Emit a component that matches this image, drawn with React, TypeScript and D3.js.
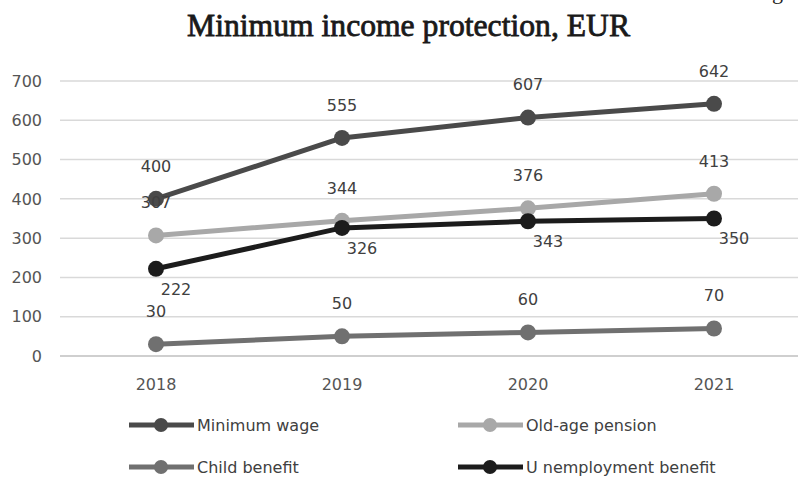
import React from "react";
import * as d3 from "d3";

const years = ["2018", "2019", "2020", "2021"];
const minimumWage = [400, 555, 607, 642];
const oldAgePension = [307, 344, 376, 413];
const childBenefit = [30, 50, 60, 70];
const unemploymentBenefit = [222, 326, 343, 350];
const yTicks = [0, 100, 200, 300, 400, 500, 600, 700];
const title = "Minimum income protection, EUR";

const series = [
  { name: "Minimum wage", values: minimumWage, color: "#4a4a4a", label: "above" },
  { name: "Old-age pension", values: oldAgePension, color: "#a8a8a8", label: "above" },
  { name: "Child benefit", values: childBenefit, color: "#707070", label: "above" },
  { name: "U nemployment benefit", values: unemploymentBenefit, color: "#1c1c1c", label: "below" },
];

export default function App() {
  const W = 798, H = 479;
  const x = d3.scaleBand<string>().domain(years).range([63, 807]);
  const y = d3.scaleLinear().domain([0, 700]).range([356, 81]);
  const line = d3.line<number>()
    .x((_, i) => (x(years[i]) as number) + x.bandwidth() / 2)
    .y((v) => y(v));
  const font = "'DejaVu Sans', sans-serif";
  const legendPos = [
    { lx: 129, ly: 425 },
    { lx: 458, ly: 425 },
    { lx: 129, ly: 467 },
    { lx: 458, ly: 467 },
  ];
  return (
    <svg width={W} height={H} style={{ position: "absolute", left: 0, top: 0, background: "#fff" }}>
      <rect width={W} height={H} fill="#fff" />
      <text x={772} y={-1} fontFamily="'Liberation Serif', serif" fontSize={22} fill="#222">g</text>
      <text x={187} y={36} textLength={443} lengthAdjust="spacingAndGlyphs" fontFamily="'Liberation Serif', serif" fontSize={32} fill="#1a1a1a" stroke="#1a1a1a" strokeWidth={0.8}>{title}</text>
      {yTicks.map((t) => (
        <g key={t}>
          <line x1={60} x2={798} y1={y(t)} y2={y(t)} stroke={t === 0 ? "#cfcfcf" : "#d9d9d9"} strokeWidth={t === 0 ? 2 : 1.5} />
          <text x={42} y={y(t)} dy="0.36em" textAnchor="end" fontFamily={font} fontSize={16} fill="#555">{t}</text>
        </g>
      ))}
      {years.map((yr) => (
        <text key={yr} x={(x(yr) as number) + x.bandwidth() / 2} y={384} dy="0.36em" textAnchor="middle" fontFamily={font} fontSize={16} fill="#555">{yr}</text>
      ))}
      {series.map((s) => (
        <g key={s.name}>
          <path d={line(s.values) || ""} fill="none" stroke={s.color} strokeWidth={5} strokeLinejoin="round" />
          {s.values.map((v, i) => (
            <circle key={i} cx={(x(years[i]) as number) + x.bandwidth() / 2} cy={y(v)} r={8} fill={s.color} />
          ))}
        </g>
      ))}
      {series.map((s) => (
        <g key={s.name + "-labels"}>
          {s.values.map((v, i) => {
            const cx = (x(years[i]) as number) + x.bandwidth() / 2;
            const isAbove = s.label === "above";
            return (
              <text key={i} x={isAbove ? cx : cx + 20} y={isAbove ? y(v) - 33 : y(v) + 20} dy="0.36em" textAnchor="middle" fontFamily={font} fontSize={16} fill="#404040">{v}</text>
            );
          })}
        </g>
      ))}
      {series.map((s, i) => {
        const { lx, ly } = legendPos[i];
        return (
          <g key={s.name + "-legend"}>
            <line x1={lx} x2={lx + 65} y1={ly} y2={ly} stroke={s.color} strokeWidth={5} />
            <circle cx={lx + 32} cy={ly} r={7} fill={s.color} />
            <text x={lx + 68} y={ly} dy="0.36em" fontFamily={font} fontSize={16} fill="#404040">{s.name}</text>
          </g>
        );
      })}
    </svg>
  );
}
